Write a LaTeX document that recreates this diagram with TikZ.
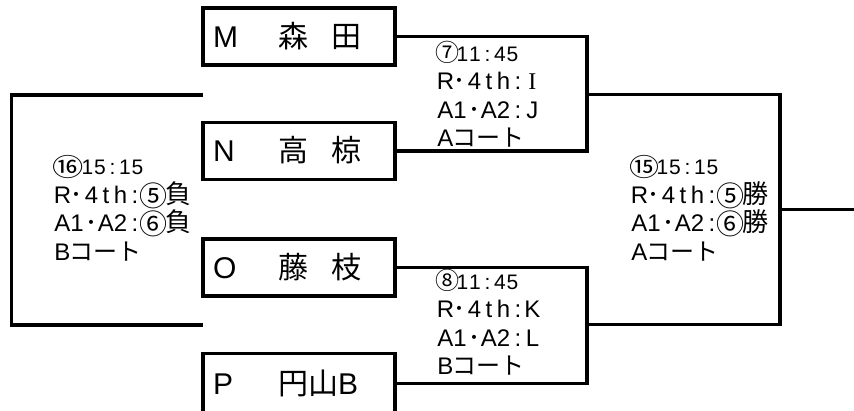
\documentclass[tikz,border=0pt]{standalone}
\usepackage{fontspec}
\usepackage{graphicx}
\setmainfont{Liberation Sans}
\newfontfamily\jp{Noto Sans CJK JP}
\newfontfamily\serifletter{Liberation Serif}
\newcommand\gc[1]{\makebox[14.5pt][c]{#1}}
\newcommand\dc[1]{\makebox[12.5pt][c]{#1}}
\newcommand\cn[5]{\makebox[#1][c]{\raisebox{#3}{\scalebox{#4}[1]{\jp\fontsize{#2}{#2}\selectfont #5}}}}
\newcommand\kj[1]{{\jp\fontsize{26}{26}\selectfont #1}}
\newcommand\tm[1]{{\fontsize{21}{21}\selectfont\dc{#1}}}
\newcommand\dt{\gc{\jp ･}}
\newcommand\infolines[4]{\vtop{\baselineskip=28.5pt\lineskiplimit=-100pt\lineskip=0pt\hbox{#1}\hbox{#2}\hbox{#3}\hbox{#4}}}
\newcommand\teamrow[2]{\hbox to 192pt{\hspace{10pt}\makebox[65pt][l]{#1}#2\hfil}}
\begin{document}
\begin{tikzpicture}[x=1pt,y=-1pt,
  team/.style={draw, line width=3.5pt, minimum width=192pt, minimum height=57pt,
    inner sep=0pt, text height=21.5pt, text depth=0pt, font=\fontsize{30}{30}\selectfont},
  info/.style={anchor=base west, inner sep=0pt, font=\fontsize{24}{28.5}\selectfont},
  link/.style={line width=3.5pt, line join=miter}]
\useasboundingbox (0,0) rectangle (854,410);
\fill[white] (0,0) rectangle (854,410);

% teams
\node[team] (M) at (299,36.5) {\teamrow{M}{{\jp 森}\hspace{24pt}{\jp 田}}};
\node[team] (N) at (299,151) {\teamrow{N}{{\jp 高}\hspace{24pt}{\jp 椋}}};
\node[team] (O) at (299,267.5) {\teamrow{O}{{\jp 藤}\hspace{24pt}{\jp 枝}}};
\node[team, minimum height=60pt] (P) at (299,383.5) {\teamrow{P}{{\jp 円山}B}};

% bracket points
\coordinate (m7) at (587,94.5);
\coordinate (m8) at (587,324.5);
\coordinate (m15) at (780,209.5);
\coordinate (out) at (854,209.5);
\coordinate (lt) at (203,95);
\coordinate (lb) at (203,325);
\coordinate (lc) at (11.5,210);

% connectors
\draw[link] (M.east) -| (m7) |- (N.east);
\draw[link] (O.east) -| (m8) |- (P.east);
\draw[link] (m7) -| (m15) |- (m8);
\draw[link] (m15) -- (out);
\draw[link] (lt) -| (lc) |- (lb);

% match info
\node[info] (g7) at (438,61) {\infolines
  {\cn{18pt}{24}{-0.5pt}{1}{⑦}\tm{1}\tm{1}\tm{:}\tm{4}\tm{5}}
  {\gc{R}\dt\gc{4}\gc{t}\gc{h}\gc{:}\gc{\serifletter I}}
  {\gc{A}\gc{1}\dt\gc{A}\gc{2}\gc{:}\gc{J}}
  {\gc{A}{\jp コート}}};
\node[info] (g8) at (438,289) {\infolines
  {\cn{18pt}{24}{-0.5pt}{1}{⑧}\tm{1}\tm{1}\tm{:}\tm{4}\tm{5}}
  {\gc{R}\dt\gc{4}\gc{t}\gc{h}\gc{:}\gc{K}}
  {\gc{A}\gc{1}\dt\gc{A}\gc{2}\gc{:}\gc{L}}
  {\gc{B}{\jp コート}}};
\node[info] (g15) at (632,174.5) {\infolines
  {\cn{24pt}{25}{-1.5pt}{1.2}{⑮}\tm{1}\tm{5}\tm{:}\tm{1}\tm{5}}
  {\gc{R}\dt\gc{4}\gc{t}\gc{h}\gc{:}\cn{23pt}{28}{-3pt}{1}{⑤}\kj{勝}}
  {\gc{A}\gc{1}\dt\gc{A}\gc{2}\gc{:}\cn{23pt}{28}{-3pt}{1}{⑥}\kj{勝}}
  {\gc{A}{\jp コート}}};
\node[info] (g16) at (55,174.5) {\infolines
  {\cn{26pt}{25}{-1.5pt}{1.25}{⑯}\tm{1}\tm{5}\tm{:}\tm{1}\tm{5}}
  {\gc{R}\dt\gc{4}\gc{t}\gc{h}\gc{:}\cn{23pt}{28}{-3pt}{1}{⑤}\kj{負}}
  {\gc{A}\gc{1}\dt\gc{A}\gc{2}\gc{:}\cn{23pt}{28}{-3pt}{1}{⑥}\kj{負}}
  {\gc{B}{\jp コート}}};
\end{tikzpicture}
\end{document}
